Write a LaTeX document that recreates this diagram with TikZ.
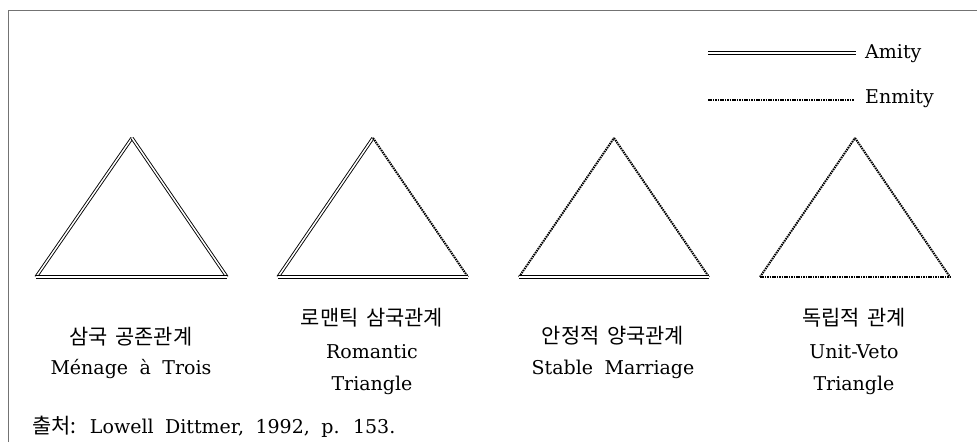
\documentclass[tikz,border=0pt]{standalone}
\usepackage{fontspec}
\setmainfont[WordSpace=1.9]{DejaVu Serif}
\newfontfamily\kr[WordSpace=1.6,Scale=1.1]{Noto Sans CJK KR}
\begin{document}
\begin{tikzpicture}[x=1pt,y=-1pt,
  amity/.style={draw=black,line width=0.9pt,double=white,double distance=1.5pt},
  enmity/.style={draw=black,line width=2pt,dash pattern=on 1.5pt off 0.9pt},
  lbl/.style={inner sep=0pt,font=\fontsize{19}{23}\selectfont},
  frame/.style={draw=black!55,line width=1.2pt}]
\useasboundingbox (0,0) rectangle (977,442);
% frame
\coordinate (fr) at (977,10.5);
\coordinate (fc) at (8.5,10.5);
\coordinate (fb) at (8.5,442);
\draw[frame] (fb) -- (fc) -- (fr);
% triangle vertices
\coordinate (a1) at (132,138); \coordinate (l1) at (36,277);  \coordinate (r1) at (227,277);
\coordinate (a2) at (373,138); \coordinate (l2) at (278,277); \coordinate (r2) at (468,277);
\coordinate (a3) at (614,138); \coordinate (l3) at (519,277); \coordinate (r3) at (709,277);
\coordinate (a4) at (855,138); \coordinate (l4) at (760,277); \coordinate (r4) at (950,277);
% triangle 1: all amity
\draw[amity] (l1) -- (a1);
\draw[amity] (a1) -- (r1);
\draw[amity] (l1) -- (r1);
% triangle 2
\draw[amity] (l2) -- (a2);
\draw[enmity] (a2) -- (r2);
\draw[amity] (l2) -- (r2);
% triangle 3
\draw[enmity] (l3) -- (a3);
\draw[enmity] (a3) -- (r3);
\draw[amity] (l3) -- (r3);
% triangle 4
\draw[enmity] (l4) -- (a4);
\draw[enmity] (a4) -- (r4);
\draw[enmity] (l4) -- (r4);
% legend
\coordinate (la0) at (708,53); \coordinate (la1) at (856,53);
\coordinate (le0) at (708,100); \coordinate (le1) at (854,100);
\draw[amity,line width=1pt,double distance=1.3pt] (la0) -- (la1);
\draw[enmity,line width=1.8pt] (le0) -- (le1);
\node[lbl,anchor=west] (amity) at (865,54) {Amity};
\node[lbl,anchor=west] (enmity) at (865,99) {Enmity};
% labels
\node[lbl] (k1) at (131,337) {\kr 삼국 공존관계};
\node[lbl] (e1) at (131,369) {Ménage à Trois};
\node[lbl] (k2) at (372,318) {\kr 로맨틱 삼국관계};
\node[lbl] (e2a) at (372,352) {Romantic};
\node[lbl] (e2b) at (372,385) {Triangle};
\node[lbl] (k3) at (613,336) {\kr 안정적 양국관계};
\node[lbl] (e3) at (613,369) {Stable Marriage};
\node[lbl] (k4) at (854,318) {\kr 독립적 관계};
\node[lbl] (e4a) at (854,352) {Unit-Veto};
\node[lbl] (e4b) at (854,385) {Triangle};
\node[lbl,anchor=west] (src) at (32,427) {{\kr 출처:} Lowell Dittmer, 1992, p. 153.};
\end{tikzpicture}
\end{document}
